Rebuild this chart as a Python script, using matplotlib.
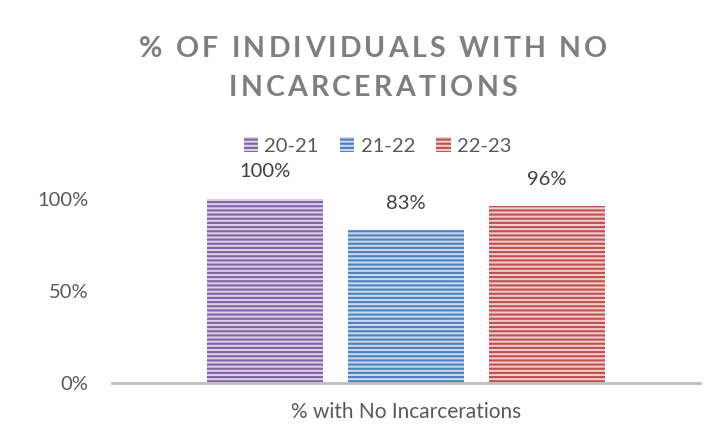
import matplotlib
matplotlib.use("Agg")
import matplotlib.pyplot as plt
from matplotlib.patches import Patch
from matplotlib.font_manager import FontProperties

categories = ["% with No Incarcerations"]
series = ["20-21", "21-22", "22-23"]
values = [1.00, 0.83, 0.96]
labels = ["100%", "83%", "96%"]
yticks = [0, 0.5, 1.0]
ytick_labels = ["0%", "50%", "100%"]
title_lines = ["% OF INDIVIDUALS WITH NO", "INCARCERATIONS"]

dark = ["#8064a2", "#4f81bd", "#c0504d"]
light = ["#d9cfe8", "#c8d8ef", "#efcbcb"]

plt.rcParams["font.family"] = ["Lato", "DejaVu Sans"]
plt.rcParams["hatch.linewidth"] = 1.5

W, H = 717, 445
fig = plt.figure(figsize=(W / 100, H / 100), dpi=100)
ymax = 1.2
ax_bottom = H - 383
ax_h = 184 * ymax
ax = fig.add_axes([112 / W, ax_bottom / H, (700 - 112) / W, ax_h / H])

width = 0.197
step = 0.2395
for i, (s, v) in enumerate(zip(series, values)):
    x = (i - 1) * step
    ax.bar(x, v, width=width, color=light[i], edgecolor=dark[i], hatch="----",
           linewidth=0, label=s)
    ax.text(x, v + 0.147, labels[i], ha="center", va="center", fontsize=14.5,
            color="#404040")

ax.set_xlim(-0.5, 0.5)
ax.set_ylim(0, ymax)
ax.set_yticks(yticks)
ax.set_yticklabels(ytick_labels, fontsize=14.5, color="#595959")
ax.set_xticks([0])
ax.set_xticklabels(categories, fontsize=15, color="#595959")
ax.tick_params(axis="both", length=0)
ax.tick_params(axis="y", pad=17)
ax.tick_params(axis="x", pad=14)
for sp in ["top", "right", "left"]:
    ax.spines[sp].set_visible(False)
ax.spines["bottom"].set_color("#bfbfbf")
ax.spines["bottom"].set_linewidth(2)

handles = [Patch(facecolor=light[i], edgecolor=dark[i], hatch="----", linewidth=0,
                 label=series[i]) for i in range(3)]
fig.legend(handles=handles, loc="center", bbox_to_anchor=(377.5 / W, 1 - 146 / H),
           ncol=3, frameon=False, fontsize=14.5, handlelength=0.72, handleheight=0.72,
           handletextpad=0.3, columnspacing=1.05, labelcolor="#595959")

# Title with letter spacing, drawn character by character
fig.canvas.draw()
renderer = fig.canvas.get_renderer()
targets = [471.0, 283.0]
fs = 20.5
fp = FontProperties(family=["Lato", "DejaVu Sans"], weight="bold", size=fs)


def glyph_widths(line):
    out = []
    for ch in line:
        if ch == " ":
            w, _, _ = renderer.get_text_width_height_descent("a a", fp, ismath=False)
            w2, _, _ = renderer.get_text_width_height_descent("aa", fp, ismath=False)
            out.append(w - w2)
        else:
            w, _, _ = renderer.get_text_width_height_descent(ch, fp, ismath=False)
            out.append(w)
    return out

all_w = [glyph_widths(l) for l in title_lines]
gaps = [len(l) - 1 for l in title_lines]
# common spacing, least squares fit to both target widths
num = sum(g * (t - sum(w)) for g, t, w in zip(gaps, targets, all_w))
den = sum(g * g for g in gaps)
spacing = num / den

baselines_y = [57, 96]
cx = 373
for line, yb, widths in zip(title_lines, baselines_y, all_w):
    total = sum(widths) + spacing * (len(line) - 1)
    x = cx - total / 2
    for ch, w in zip(line, widths):
        if ch != " ":
            fig.text(x / W, 1 - yb / H, ch, fontproperties=fp, color="#7f7f7f",
                     ha="left", va="baseline")
        x += w + spacing

fig.savefig("out.png", dpi=100)
